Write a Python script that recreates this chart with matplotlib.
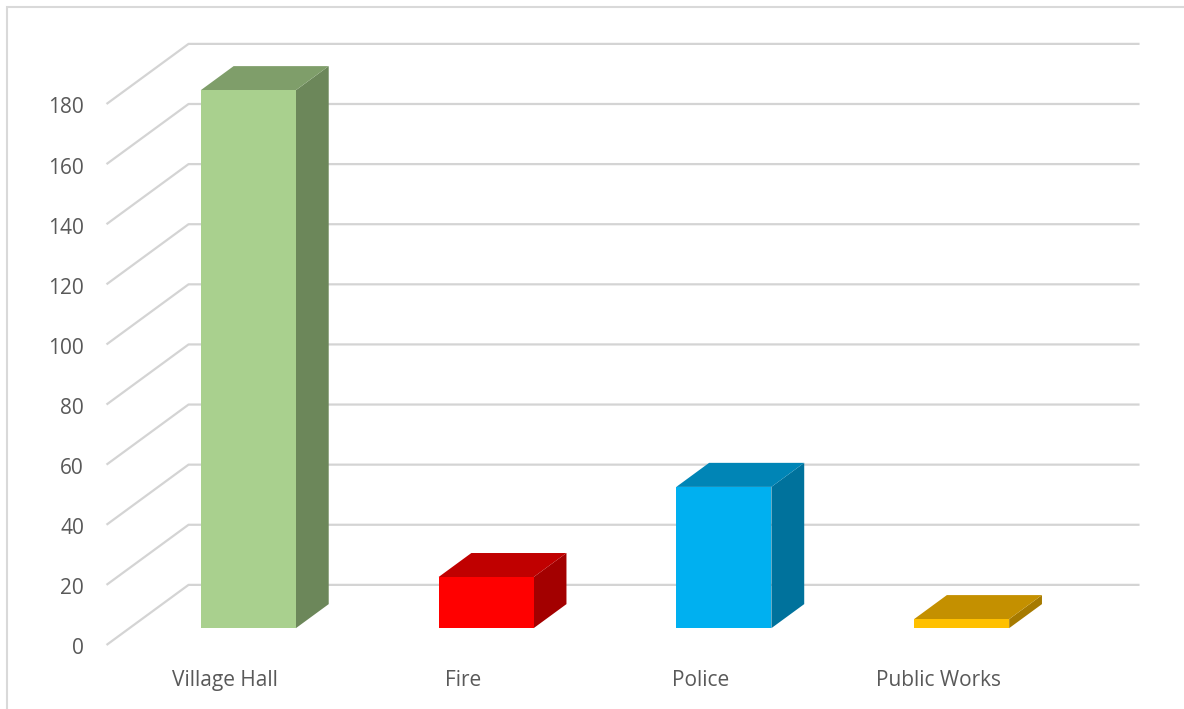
import matplotlib.pyplot as plt
from matplotlib.patches import Polygon, Rectangle

categories = ['Village Hall', 'Fire', 'Police', 'Public Works']
values = [179, 17, 47, 3]
front_colors = ['#A9D08E', '#FF0000', '#00B0F0', '#FFC000']
top_colors = ['#7F9E6A', '#C00000', '#0085B6', '#C49000']
side_colors = ['#6C875A', '#A30000', '#00729C', '#A67A00']
y_ticks = list(range(0, 181, 20))

# fake 3D: full depth shift in (category units, value units)
DEPTH_X = 0.345
DEPTH_Y = 20.0
BAR_W = 0.4
BAR_D0, BAR_D1 = 0.28, 0.68
GRID = '#D4D4D4'
TEXT = '#595959'


def proj(x, y, d):
    return (x + d * DEPTH_X, y + d * DEPTH_Y)


plt.rcParams['font.family'] = ['Open Sans', 'DejaVu Sans']

fig = plt.figure(figsize=(11.84, 7.09), dpi=100)
ax = fig.add_axes([0, 0, 1, 1])
ax.set_xlim(-0.948, 4.032)
ax.set_ylim(-21.3, 214.6)
ax.axis('off')

n = len(categories)
left, right = -0.5, n - 0.5

# gridlines: diagonal on the side wall, then along the back wall
for v in y_ticks:
    p0 = proj(left, v, 0)
    p1 = proj(left, v, 1)
    p2 = proj(right, v, 1)
    ax.plot([p0[0], p1[0], p2[0]], [p0[1], p1[1], p2[1]],
            color=GRID, lw=1.6, solid_capstyle='butt', zorder=1)
    ax.text(left - 0.095, v - 1.3, str(v), ha='right', va='center',
            fontsize=15, color=TEXT)

for i, (cat, v) in enumerate(zip(categories, values)):
    x0, x1 = i - BAR_W / 2, i + BAR_W / 2
    front = [proj(x0, 0, BAR_D0), proj(x1, 0, BAR_D0),
             proj(x1, v, BAR_D0), proj(x0, v, BAR_D0)]
    top = [proj(x0, v, BAR_D0), proj(x1, v, BAR_D0),
           proj(x1, v, BAR_D1), proj(x0, v, BAR_D1)]
    side = [proj(x1, 0, BAR_D0), proj(x1, 0, BAR_D1),
            proj(x1, v, BAR_D1), proj(x1, v, BAR_D0)]
    ax.add_patch(Polygon(side, closed=True, fc=side_colors[i], ec='none', zorder=3))
    ax.add_patch(Polygon(top, closed=True, fc=top_colors[i], ec='none', zorder=3))
    ax.add_patch(Polygon(front, closed=True, fc=front_colors[i], ec='none', zorder=4))
    ax.text(i, -11.7, cat, ha='center', va='center', fontsize=15, color=TEXT)

# chart border (only left and top edges fall inside the image)
fig.patches.append(Rectangle((7 / 1184, -0.1), 1.2, (709 - 7) / 709 + 0.1,
                             transform=fig.transFigure, fill=False,
                             ec='#D9D9D9', lw=1.5))

fig.savefig('out.png', dpi=100)
